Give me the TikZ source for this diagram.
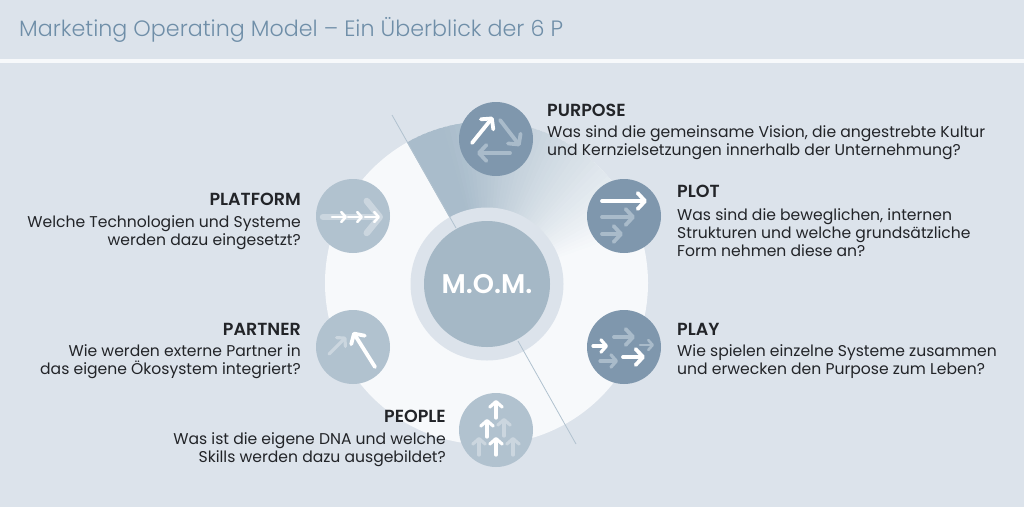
\documentclass[tikz,border=0pt]{standalone}
\usepackage{fontspec}
\setmainfont{Poppins}
\newfontfamily\semifont{Poppins SemiBold}
\newfontfamily\lightfont{Poppins Light}
\usetikzlibrary{arrows.meta}
\definecolor{pagebg}{HTML}{DCE3EB}
\definecolor{ringwhite}{HTML}{F7F9FB}
\definecolor{wedgeblue}{HTML}{A9BCCB}
\definecolor{momblue}{HTML}{A5B8C6}
\definecolor{darkblue}{HTML}{7F97AD}
\definecolor{midblue}{HTML}{B1C2CF}
\definecolor{paledark}{HTML}{A9BBCA}
\definecolor{palemid}{HTML}{CBD6DF}
\definecolor{titleblue}{HTML}{6F8EA8}
\definecolor{inktext}{HTML}{222428}
\tikzset{
  disc/.style={circle, inner sep=0pt, minimum size=#1},
  headtxt/.style={inner sep=0pt, text=inktext, font=\fontsize{17.5}{18}\semifont},
  bodytxt/.style={inner sep=0pt, text=inktext, font=\fontsize{15.6}{18}\selectfont},
  ico/.style n args={3}{line cap=round, line width=#1pt, -{Straight Barb[round, length=#2pt, width=#3pt]}},
  icohuge/.style={ico={6.5}{13}{32}},
  icolarge/.style={ico={3.8}{7.5}{16}},
  icomid/.style={ico={3.2}{5.5}{12.5}},
  icosmall/.style={ico={2.6}{4.5}{10}}
}
\begin{document}
\begin{tikzpicture}[x=1pt, y=-1pt]

\useasboundingbox (0,0) rectangle (1024,507);
\fill[pagebg] (0,0) rectangle (1024,507);
\fill[ringwhite] (0,59) rectangle (1024,63);

\node[anchor=west, inner sep=0pt, text=titleblue, font=\fontsize{22.2}{24}\lightfont] (title) at (19,30) {Marketing Operating Model – Ein Überblick der 6 P};

% The ring and its fading wedge.

\node[disc=323, fill=ringwhite] (ring) at (486.5,283) {};
\begin{scope}
\clip (ring.center) circle (161.5);
\foreach \a [evaluate=\a as \shade using {min(100,115-(\a+119.5)*1.15)}] in {-119.5,-117.5,...,-19.5} {
  \fill[wedgeblue!\shade!ringwhite] (ring.center) -- +(\a:200) -- +(\a+3:200) -- cycle;
}
\end{scope}
\node[disc=153, fill=pagebg] (halo) at (487,284) {};

\coordinate (ltop) at (392,115);
\coordinate (linner) at (456,228);
\coordinate (rinner) at (518,341);
\coordinate (rbottom) at (576,444);
\draw[midblue, line width=0.8pt] (ltop) -- (linner);
\draw[midblue, line width=0.8pt] (rinner) -- (rbottom);

\node[disc=126, fill=momblue, text=white, font=\fontsize{27}{30}\semifont] (mom) at (487,284) {M.O.M.};

% The six P.

\node[disc=74, fill=darkblue] (purpose) at (496,139) {};
\node[disc=74, fill=darkblue] (plot) at (624,216) {};
\node[disc=74, fill=darkblue] (play) at (624,347) {};
\node[disc=74, fill=midblue] (people) at (496,430) {};
\node[disc=74, fill=midblue] (partner) at (353,347) {};
\node[disc=74, fill=midblue] (platform) at (353,216) {};

\begin{scope}[shift={(purpose.center)}]
\draw[icolarge, white] (-24,4) -- (-3,-22);
\draw[icolarge, paledark] (4,-19) -- (24,7);
\draw[icolarge, paledark] (14,14) -- (-19,14);
\end{scope}

\begin{scope}[shift={(plot.center)}]
\draw[icolarge, white] (-22,-15) -- (23,-15);
\draw[icolarge, paledark] (-22,1) -- (11,1);
\draw[icolarge, paledark] (-22,18) -- (-1,18);
\end{scope}

\begin{scope}[shift={(play.center)}]
\draw[icomid, white] (-31,-1) -- (-16,-1);
\draw[icolarge, paledark] (-10,-10) -- (11,-10);
\draw[icosmall, paledark] (16,-2) -- (30,-2);
\draw[icolarge, white] (-1,10) -- (21,10);
\draw[icomid, paledark] (-24,14) -- (-6,14);
\end{scope}

\begin{scope}[shift={(people.center)}]
\foreach \x/\y in {8/6, -17/25, 17/25} {
  \draw[icomid, palemid] (\x,\y) -- (\x,\y-18);
}
\foreach \x/\y in {0/-12, -9/7, 0/25} {
  \draw[icomid, white] (\x,\y) -- (\x,\y-18);
}
\end{scope}

\begin{scope}[shift={(partner.center)}]
\draw[icomid, palemid] (-24,7) -- (-7,-10);
\draw[icolarge, white] (22,20) -- (0,-15);
\end{scope}

\begin{scope}[shift={(platform.center)}]
\draw[icohuge, palemid] (-30,1) -- (30,1);
\foreach \x in {-21,-5,12} {
  \draw[icosmall, white] (\x,1) -- (\x+15,1);
}
\end{scope}

% The texts.

\node[headtxt, anchor=west] (purposehead) at (547,110) {PURPOSE};
\node[bodytxt, anchor=west, align=left] (purposetxt) at (547,142.5) {Was sind die gemeinsame Vision, die angestrebte Kultur\\und Kernzielsetzungen innerhalb der Unternehmung?};
\node[headtxt, anchor=west] (plothead) at (677,191) {PLOT};
\node[bodytxt, anchor=west, align=left] (plottxt) at (677,233) {Was sind die beweglichen, internen\\Strukturen und welche grundsätzliche\\Form nehmen diese an?};
\node[headtxt, anchor=west] (playhead) at (677,329) {PLAY};
\node[bodytxt, anchor=west, align=left] (playtxt) at (677,361.5) {Wie spielen einzelne Systeme zusammen\\und erwecken den Purpose zum Leben?};
\node[headtxt, anchor=east] (peoplehead) at (446,416) {PEOPLE};
\node[bodytxt, anchor=east, align=right] (peopletxt) at (446,449.5) {Was ist die eigene DNA und welche\\Skills werden dazu ausgebildet?};
\node[headtxt, anchor=east] (partnerhead) at (301,329) {PARTNER};
\node[bodytxt, anchor=east, align=right] (partnertxt) at (301,361.5) {Wie werden externe Partner in\\das eigene Ökosystem integriert?};
\node[headtxt, anchor=east] (platformhead) at (301,199) {PLATFORM};
\node[bodytxt, anchor=east, align=right] (platformtxt) at (301,232.5) {Welche Technologien und Systeme\\werden dazu eingesetzt?};

\end{tikzpicture}
\end{document}
